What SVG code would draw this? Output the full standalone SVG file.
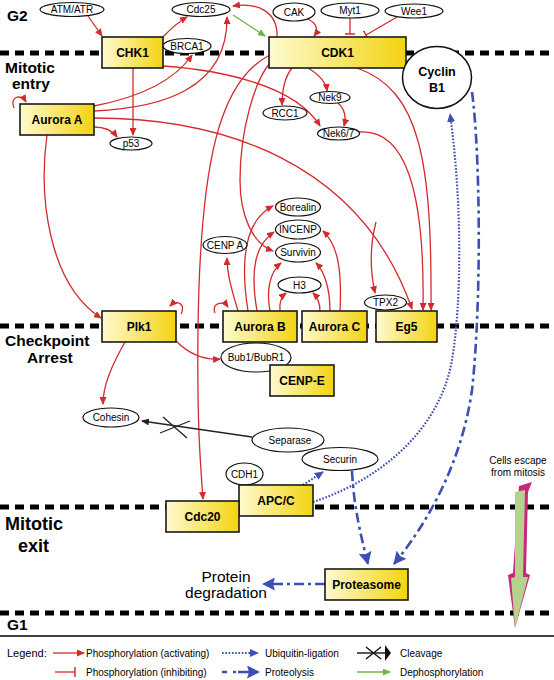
<svg xmlns="http://www.w3.org/2000/svg" width="554" height="680" viewBox="0 0 554 680">
<style>
text{font-family:"Liberation Sans",Arial,sans-serif;fill:#000}
.phase{font-weight:bold;font-size:15.5px}
.box{fill:url(#yg);stroke:#1a1a1a;stroke-width:1.6}
.bl{font-weight:bold;font-size:12px;text-anchor:middle}
.el{fill:#fff;stroke:#111;stroke-width:1.2}
.et{font-size:10px;text-anchor:middle}
.sep{stroke:#000;stroke-width:5;stroke-dasharray:9 6;fill:none}
.r{fill:none;stroke:#d42a2e;stroke-width:1.3;marker-end:url(#ar)}
.ri{fill:none;stroke:#d42a2e;stroke-width:1.3;marker-end:url(#br)}
.g{fill:none;stroke:#6fb34a;stroke-width:1.3;marker-end:url(#ag)}
.ub{fill:none;stroke:#3c4fb4;stroke-width:2.2;stroke-dasharray:1.6 1.7;marker-end:url(#ab)}
.pr{fill:none;stroke:#3c4fb4;stroke-width:2.6;stroke-dasharray:10 4 3 4;marker-end:url(#abb)}
.lg{font-size:10px}
</style>
<defs>
<linearGradient id="yg" x1="0" y1="0" x2="1" y2="0">
<stop offset="0" stop-color="#fefad0"/>
<stop offset="1" stop-color="#f3d311"/>
</linearGradient>
<marker id="ar" markerUnits="userSpaceOnUse" markerWidth="8" markerHeight="7" refX="7" refY="3.5" orient="auto"><path d="M0,0 L8,3.5 L0,7 Z" fill="#d42a2e"/></marker>
<marker id="br" markerUnits="userSpaceOnUse" markerWidth="2" markerHeight="10" refX="1" refY="5" orient="auto"><path d="M1,0 L1,10" stroke="#d42a2e" stroke-width="1.5"/></marker>
<marker id="ag" markerUnits="userSpaceOnUse" markerWidth="8" markerHeight="7" refX="7" refY="3.5" orient="auto"><path d="M0,0 L8,3.5 L0,7 Z" fill="#6fb34a"/></marker>
<marker id="ak" markerUnits="userSpaceOnUse" markerWidth="8" markerHeight="7" refX="7" refY="3.5" orient="auto"><path d="M0,0 L8,3.5 L0,7 Z" fill="#222"/></marker>
<marker id="ab" markerUnits="userSpaceOnUse" markerWidth="9" markerHeight="8" refX="8" refY="4" orient="auto"><path d="M0,0 L9,4 L0,8 Z" fill="#3c4fb4"/></marker>
<marker id="abb" markerUnits="userSpaceOnUse" markerWidth="13" markerHeight="13" refX="12" refY="6.5" orient="auto"><path d="M0,0 L13,6.5 L0,13 L2,6.5 Z" fill="#3c4fb4"/></marker>
</defs>
<rect width="554" height="680" fill="#fff"/>

<g id="separators">
<line class="sep" x1="0" y1="53" x2="554" y2="53"/>
<line class="sep" x1="0" y1="326" x2="554" y2="326"/>
<line class="sep" x1="0" y1="507" x2="554" y2="507"/>
<line class="sep" x1="0" y1="613" x2="554" y2="613"/>
<line x1="0" y1="636" x2="554" y2="636" stroke="#000" stroke-width="1.4"/>
</g>

<g id="phase-labels">
<text class="phase" x="7" y="21">G2</text>
<text class="phase" x="5" y="73">Mitotic</text>
<text class="phase" x="12" y="89">entry</text>
<text class="phase" x="5" y="346">Checkpoint</text>
<text class="phase" x="27" y="363">Arrest</text>
<text class="phase" x="5" y="530" style="font-size:18px">Mitotic</text>
<text class="phase" x="18" y="552" style="font-size:18px">exit</text>
<text class="phase" x="7" y="630">G1</text>
<text x="226" y="582" style="font-size:15.5px" text-anchor="middle">Protein</text>
<text x="226" y="598" style="font-size:15.5px" text-anchor="middle">degradation</text>
<text x="518" y="464" class="et">Cells escape</text>
<text x="518" y="476" class="et">from mitosis</text>
</g>

<g id="connectors">
<path class="r" d="M88,16 L102,36"/>
<path class="r" d="M163,37 Q175,24 187,17"/>
<path class="r" d="M277,37 C278,12 258,2 233,6"/>
<path class="g" d="M233,15 L265,36"/>
<path class="r" d="M308,19 C318,24 318,31 314,36"/>
<path class="ri" d="M350,18 L350,34"/>
<path class="ri" d="M397,17 L366,35"/>
<path class="r" d="M94,106 C140,97 175,80 192,55"/>
<path class="r" d="M94,111 C160,108 228,90 227,17"/>
<path class="r" d="M94,127 C105,127 112,130 117,137"/>
<path class="r" d="M133,68 L133,135"/>
<path class="r" d="M163,66 C220,70 295,85 320,126"/>
<path class="r" d="M292,68 C284,78 282,90 282,105"/>
<path class="r" d="M308,68 C318,74 326,82 327,91"/>
<path class="r" d="M338,103 C346,110 346,118 344,126"/>
<path class="r" d="M359,132 C405,128 425,190 423,310"/>
<path class="r" d="M357,68 C420,90 432,160 431,310"/>
<path class="r" d="M94,118 C220,118 360,160 412,309"/>
<path class="r" d="M376,222 C370,245 370,270 375,293"/>
<path class="r" d="M270,55 C220,80 200,160 198,330 C197,420 200,460 203,499"/>
<path class="r" d="M270,63 C255,80 240,130 240,180 C240,215 252,243 273,251"/>
<path class="r" d="M47,135 C38,200 50,285 101,318"/>
<path class="r" d="M14,108 C9,97 21,93 26,102"/>
<path class="r" d="M181,314 C186,304 177,299 170,306"/>
<path class="r" d="M215,313 C211,303 223,300 228,307"/>
<path class="r" d="M176,341 C190,355 205,360 220,359"/>
<path class="r" d="M125,342 C112,365 103,385 103,404"/>
<path class="r" d="M238,311 C232,290 227,275 227,258"/>
<path class="r" d="M248,311 C240,260 245,220 273,206"/>
<path class="r" d="M257,311 C250,270 255,245 274,232"/>
<path class="r" d="M270,311 C266,290 270,272 281,263"/>
<path class="r" d="M280,311 C279,302 281,297 286,293"/>
<path class="r" d="M320,311 C320,302 317,297 313,293"/>
<path class="r" d="M330,311 C330,290 325,272 316,263"/>
<path class="r" d="M340,311 C342,270 338,245 323,231"/>
<path class="ub" d="M313,502 C380,480 440,430 452,360 C462,300 462,200 450,114"/>
<path class="ub" d="M303,485 L323,472"/>
<path class="pr" d="M352,471 C354,510 362,540 368,564"/>
<path class="pr" d="M472,92 C480,150 482,300 472,390 C462,460 430,520 394,564"/>
<path class="pr" d="M325,584 L263,584"/>
<path d="M252,437 L142,421" fill="none" stroke="#222" stroke-width="1.3" marker-end="url(#ak)"/>
<path d="M160,433 L190,421 M163,417 L187,438" stroke="#222" stroke-width="1.3" fill="none"/>
</g>

<g id="escape-arrow">
<path d="M519,486 L532,482 L528,492 L526,573 L530,575 L515,628 L508,575 L513,573 Z" fill="#c8267f"/>
<path d="M515,492 L525,490 L523,577 L528,577 L515,628 L511,578 L515,577 Z" fill="#b6d18c"/>
</g>

<g id="node-ATMATR"><ellipse class="el" cx="72" cy="9.5" rx="32" ry="7"/><text class="et" x="72" y="13">ATM/ATR</text></g>
<g id="node-Cdc25"><ellipse class="el" cx="201" cy="9.5" rx="29" ry="7"/><text class="et" x="201" y="13">Cdc25</text></g>
<g id="node-CAK"><ellipse class="el" cx="294" cy="12" rx="21" ry="9"/><text class="et" x="294" y="15.5">CAK</text></g>
<g id="node-Myt1"><ellipse class="el" cx="350" cy="10.5" rx="29" ry="7.5"/><text class="et" x="350" y="14">Myt1</text></g>
<g id="node-Wee1"><ellipse class="el" cx="414" cy="11" rx="29" ry="7"/><text class="et" x="414" y="14.5">Wee1</text></g>
<g id="node-CHK1"><rect class="box" x="102" y="37" width="61" height="31"/><text class="bl" x="132.5" y="57">CHK1</text></g>
<g id="node-BRCA1"><ellipse class="el" cx="187" cy="46" rx="24" ry="7.5"/><text class="et" x="187" y="49.5">BRCA1</text></g>
<g id="node-CDK1"><rect class="box" x="269" y="37" width="137" height="31"/><text class="bl" x="337.5" y="57">CDK1</text></g>
<g id="node-CyclinB1"><ellipse cx="437" cy="77.5" rx="34.5" ry="31" fill="#fff" stroke="#111" stroke-width="1.5"/><text class="bl" x="437" y="76" style="font-size:12.5px">Cyclin</text><text class="bl" x="437" y="92" style="font-size:12.5px">B1</text></g>
<g id="node-AuroraA"><rect class="box" x="20" y="104" width="74" height="31"/><text class="bl" x="57" y="124">Aurora A</text></g>
<g id="node-p53"><ellipse class="el" cx="131" cy="143.5" rx="21" ry="6.5"/><text class="et" x="131" y="147">p53</text></g>
<g id="node-Nek9"><ellipse class="el" cx="330" cy="97.5" rx="20" ry="6"/><text class="et" x="330" y="101">Nek9</text></g>
<g id="node-RCC1"><ellipse class="el" cx="285" cy="113" rx="22" ry="7"/><text class="et" x="285" y="116.5">RCC1</text></g>
<g id="node-Nek67"><ellipse class="el" cx="338.5" cy="133.5" rx="21" ry="6.5"/><text class="et" x="338.5" y="137">Nek6/7</text></g>
<g id="node-Borealin"><ellipse class="el" cx="298" cy="207" rx="22.5" ry="9"/><text class="et" x="298" y="210.5">Borealin</text></g>
<g id="node-INCENP"><ellipse class="el" cx="298" cy="229.5" rx="22.5" ry="9.5"/><text class="et" x="298" y="233">INCENP</text></g>
<g id="node-Survivin"><ellipse class="el" cx="298" cy="252.5" rx="22.5" ry="9.5"/><text class="et" x="298" y="256">Survivin</text></g>
<g id="node-CENPA"><ellipse class="el" cx="225" cy="245" rx="22" ry="8.5"/><text class="et" x="225" y="248.5">CENP A</text></g>
<g id="node-H3"><ellipse class="el" cx="299.5" cy="285" rx="21.5" ry="8"/><text class="et" x="299.5" y="288.5">H3</text></g>
<g id="node-TPX2"><ellipse class="el" cx="385.5" cy="302.5" rx="21" ry="7.5"/><text class="et" x="385.5" y="306">TPX2</text></g>
<g id="node-Plk1"><rect class="box" x="102" y="311" width="74" height="31"/><text class="bl" x="139" y="331">Plk1</text></g>
<g id="node-AuroraB"><rect class="box" x="223" y="311" width="74" height="31"/><text class="bl" x="260" y="331">Aurora B</text></g>
<g id="node-AuroraC"><rect class="box" x="302" y="311" width="65" height="31"/><text class="bl" x="334.5" y="331">Aurora C</text></g>
<g id="node-Eg5"><rect class="box" x="376" y="311" width="61" height="31"/><text class="bl" x="406.5" y="331">Eg5</text></g>
<g id="node-Bub1BubR1"><ellipse class="el" cx="256" cy="357.5" rx="35" ry="14.5"/><text class="et" x="256" y="361">Bub1/BubR1</text></g>
<g id="node-CENPE"><rect class="box" x="270" y="365" width="64" height="31"/><text class="bl" x="302" y="385">CENP-E</text></g>
<g id="node-Cohesin"><ellipse class="el" cx="111" cy="417.5" rx="28" ry="9.5"/><text class="et" x="111" y="421">Cohesin</text></g>
<g id="node-Separase"><ellipse class="el" cx="288" cy="440" rx="36" ry="12"/><text class="et" x="290" y="443.5">Separase</text></g>
<g id="node-Securin"><ellipse class="el" cx="340" cy="459" rx="38" ry="11.5"/><text class="et" x="340" y="462.5">Securin</text></g>
<g id="node-CDH1"><ellipse class="el" cx="244.5" cy="474" rx="18.5" ry="11"/><text class="et" x="244.5" y="477.5">CDH1</text></g>
<g id="node-APCC"><rect class="box" x="239" y="485" width="74" height="31"/><text class="bl" x="276" y="505">APC/C</text></g>
<g id="node-Cdc20"><rect class="box" x="166" y="501" width="73" height="31"/><text class="bl" x="202.5" y="521">Cdc20</text></g>
<g id="node-Proteasome"><rect class="box" x="325" y="569" width="83" height="31"/><text class="bl" x="366.5" y="589">Proteasome</text></g>

<g id="legend">
<text class="lg" x="7" y="657" style="font-size:11px">Legend:</text>
<path d="M53,653 L84,653" fill="none" stroke="#d42a2e" stroke-width="1.3" marker-end="url(#ar)"/>
<text class="lg" x="86" y="657">Phosphorylation (activating)</text>
<path d="M55,672 L75,672" fill="none" stroke="#d42a2e" stroke-width="1.3" marker-end="url(#br)"/>
<text class="lg" x="86" y="676">Phosphorylation (inhibiting)</text>
<path d="M222,653 L258,653" class="ub"/>
<text class="lg" x="265" y="657">Ubiquitin-ligation</text>
<path d="M222,672 L259,672" fill="none" stroke="#3c4fb4" stroke-width="2.6" stroke-dasharray="5 6 3 2 10 0" marker-end="url(#abb)"/>
<text class="lg" x="265" y="676">Proteolysis</text>
<path d="M357,653 L386,653" fill="none" stroke="#111" stroke-width="1.4"/>
<path d="M366,647 L381,659 M366,659 L381,647" stroke="#111" stroke-width="1.4" fill="none"/>
<path d="M385,645 L391,653 L385,661 Z" fill="#111"/>
<text class="lg" x="400" y="657">Cleavage</text>
<path d="M357,672 L390,672" class="g"/>
<text class="lg" x="400" y="676">Dephosphorylation</text>
</g>
</svg>
